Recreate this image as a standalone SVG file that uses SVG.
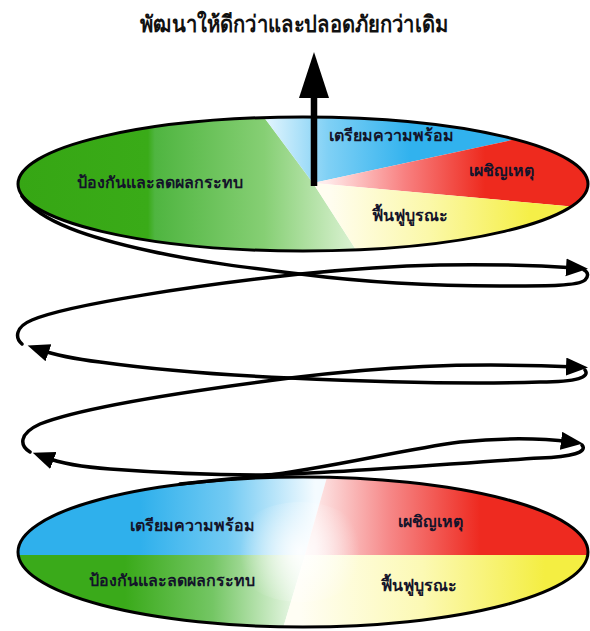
<svg xmlns="http://www.w3.org/2000/svg" width="590" height="631" viewBox="0 0 590 631">
<style>
.title{font-family:"Noto Sans",sans-serif;font-size:23px;font-weight:600;fill:#111;text-anchor:middle}
.lbl{font-family:"Liberation Serif","Noto Sans",serif;font-size:16px;font-weight:bold;fill:#14142a;text-anchor:middle}
.edge{fill:none;stroke:#000;stroke-width:3}
.strand{fill:none;stroke:#000;stroke-width:3.5;stroke-linecap:round}
</style>
<defs>
<marker id="ah" markerUnits="userSpaceOnUse" markerWidth="24" markerHeight="20" refX="10" refY="9" orient="auto">
<path d="M0,0 L22,9 L0,18 Z" fill="#000"/>
</marker>
<clipPath id="clipTop"><ellipse cx="303" cy="184" rx="285" ry="67"/></clipPath>
<clipPath id="clipBot"><ellipse cx="303" cy="552" rx="285" ry="75"/></clipPath>
<linearGradient id="gTopGreen" gradientUnits="userSpaceOnUse" x1="18" y1="0" x2="360" y2="0">
<stop offset="0" stop-color="#36a614"/><stop offset="0.38" stop-color="#3aab18"/><stop offset="0.4" stop-color="#4fb540"/><stop offset="0.72" stop-color="#86cf74"/><stop offset="1" stop-color="#e0f4d8"/>
</linearGradient>
<linearGradient id="gTopBlue" gradientUnits="userSpaceOnUse" x1="262" y1="0" x2="410" y2="0">
<stop offset="0" stop-color="#e8f7fe"/><stop offset="0.45" stop-color="#7fd0f5"/><stop offset="1" stop-color="#31b2ee"/>
</linearGradient>
<linearGradient id="gTopRed" gradientUnits="userSpaceOnUse" x1="325" y1="0" x2="485" y2="0">
<stop offset="0" stop-color="#ffecec"/><stop offset="0.5" stop-color="#f88080"/><stop offset="1" stop-color="#ee2a1e"/>
</linearGradient>
<linearGradient id="gTopYellow" gradientUnits="userSpaceOnUse" x1="330" y1="0" x2="530" y2="0">
<stop offset="0" stop-color="#fffdf0"/><stop offset="0.5" stop-color="#fbf8a8"/><stop offset="1" stop-color="#f5ef48"/>
</linearGradient>
<linearGradient id="gBotBlue" gradientUnits="userSpaceOnUse" x1="140" y1="0" x2="315" y2="0">
<stop offset="0" stop-color="#2fb0ec"/><stop offset="0.5" stop-color="#72caf3"/><stop offset="1" stop-color="#f4fbff"/>
</linearGradient>
<linearGradient id="gBotRed" gradientUnits="userSpaceOnUse" x1="315" y1="0" x2="480" y2="0">
<stop offset="0" stop-color="#fde8e8"/><stop offset="0.45" stop-color="#f68888"/><stop offset="1" stop-color="#ee2a20"/>
</linearGradient>
<linearGradient id="gBotGreen" gradientUnits="userSpaceOnUse" x1="125" y1="0" x2="300" y2="0">
<stop offset="0" stop-color="#3aaa1a"/><stop offset="0.5" stop-color="#74c664"/><stop offset="1" stop-color="#f0faee"/>
</linearGradient>
<linearGradient id="gBotYellow" gradientUnits="userSpaceOnUse" x1="300" y1="0" x2="545" y2="0">
<stop offset="0" stop-color="#fffef4"/><stop offset="0.5" stop-color="#fcf9b4"/><stop offset="1" stop-color="#f4ee42"/>
</linearGradient>
<radialGradient id="glow" gradientUnits="userSpaceOnUse" cx="300" cy="552" r="60">
<stop offset="0" stop-color="#fff" stop-opacity="0.9"/><stop offset="1" stop-color="#fff" stop-opacity="0"/>
</radialGradient>
</defs>

<text class="title" x="294" y="32" textLength="308" lengthAdjust="spacingAndGlyphs">พัฒนาให้ดีกว่าและปลอดภัยกว่าเดิม</text>

<g id="top-cycle">
<g clip-path="url(#clipTop)">
<path d="M313,183 L369,270 L0,270 L0,85 L240,85 Z" fill="url(#gTopGreen)"/>
<path d="M313,183 L240,85 L600,85 L600,121 Z" fill="url(#gTopBlue)"/>
<path d="M313,183 L600,121 L600,209 Z" fill="url(#gTopRed)"/>
<path d="M313,183 L600,209 L600,270 L369,270 Z" fill="url(#gTopYellow)"/>
</g>
<ellipse class="edge" cx="303" cy="184" rx="285" ry="67"/>
</g>

<g id="top-labels">
<text class="lbl" x="391" y="141">เตรียมความพร้อม</text>
<text class="lbl" x="501" y="176">เผชิญเหตุ</text>
<text class="lbl" x="410" y="221">ฟื้นฟูบูรณะ</text>
<text class="lbl" x="160" y="188">ป้องกันและลดผลกระทบ</text>
</g>

<g id="up-arrow">
<line x1="314" y1="186" x2="314" y2="92" stroke="#000" stroke-width="6.5"/>
<polygon points="314,52 299,98 329,98" fill="#000"/>
</g>

<g id="bottom-cycle">
<g clip-path="url(#clipBot)">
<path d="M0,470 L329,470 L305,555 L0,555 Z" fill="url(#gBotBlue)"/>
<path d="M329,470 L600,470 L600,555 L305,555 Z" fill="url(#gBotRed)"/>
<path d="M0,555 L305,555 L281,635 L0,635 Z" fill="url(#gBotGreen)"/>
<path d="M305,555 L600,555 L600,635 L281,635 Z" fill="url(#gBotYellow)"/>
<ellipse cx="300" cy="552" rx="70" ry="50" fill="url(#glow)"/>
</g>
<ellipse class="edge" cx="303" cy="552" rx="285" ry="75"/>
</g>

<g id="bottom-labels">
<text class="lbl" x="192" y="531">เตรียมความพร้อม</text>
<text class="lbl" x="430" y="527">เผชิญเหตุ</text>
<text class="lbl" x="172" y="586">ป้องกันและลดผลกระทบ</text>
<text class="lbl" x="419" y="591">ฟื้นฟูบูรณะ</text>
</g>

<g id="connectors">
<path class="strand" d="M22,196 C40,222 90,238 150,251 C200,262 250,268 300,274 C370,283 430,286 500,286 C550,286 578,286 585,280 C589,276 588,272 584,270"/>
<path class="strand" marker-end="url(#ah)" d="M22,344 C15,338 15,327 32,320 C70,304 200,285 300,274 C400,264 480,262 576,268"/>
<path class="strand" marker-end="url(#ah)" d="M585,370 C590,377 578,382 540,382 C480,384 400,383 290,378 C220,375 150,369 100,362 C75,359 58,356 39,349.5"/>
<path class="strand" marker-end="url(#ah)" d="M30,452 C20,446 18,434 40,424 C80,408 180,392 290,378 C380,367 460,362 576,367"/>
<path class="strand" marker-end="url(#ah)" d="M180,484 C215,480 240,478 262,476 C330,468 400,450 460,442 C500,438 540,438 571,442"/>
<path class="strand" marker-end="url(#ah)" d="M582,445 C588,452 572,457 540,458 C470,462 330,474 262,475 C200,475 150,472 110,469 C80,467 60,463 44,457"/>
</g>
</svg>
